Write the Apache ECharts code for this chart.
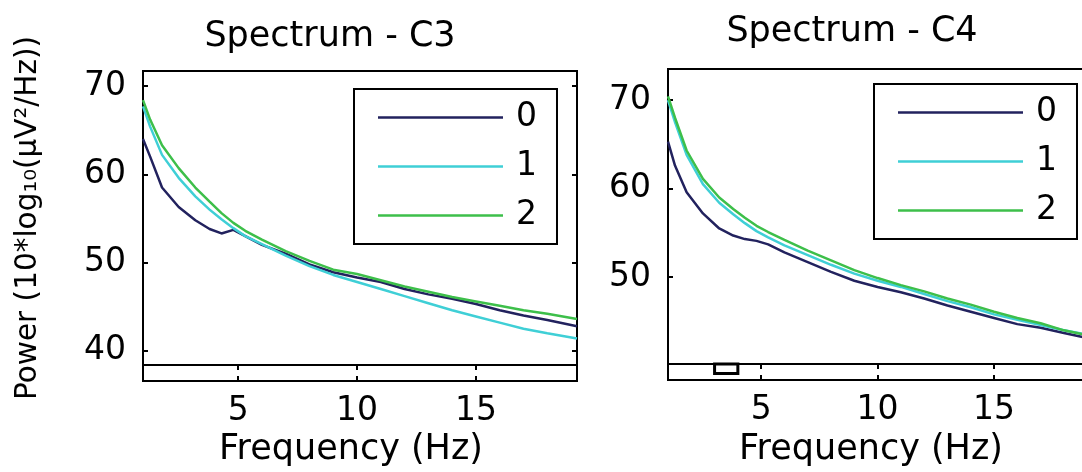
<!DOCTYPE html>
<html>
<head>
<meta charset="utf-8">
<script src="https://cdn.jsdelivr.net/npm/echarts@6/dist/echarts.min.js"></script>
<style>
  html, body { margin: 0; padding: 0; background: #fff; overflow: hidden; width: 1082px; height: 472px; }
  #chart { width: 1110px; height: 472px; }
</style>
</head>
<body>
<div id="chart"></div>
<script>
// Frequency bins (Hz) shared by both channels
const freq = [1, 1.3, 1.8, 2.5, 3.2, 3.8, 4.3, 4.8, 5.3, 6, 7, 8, 9, 10, 11, 12, 13, 14, 15, 16, 17, 18, 19.25];

// Channel C3 power spectra, 10*log10(uV^2/Hz), per condition
const c3_cond0 = [64.0, 62.0, 58.5, 56.3, 54.8, 53.8, 53.3, 53.7, 53.0, 52.0, 51.0, 49.8, 48.9, 48.3, 47.8, 47.0, 46.4, 45.9, 45.3, 44.6, 44.0, 43.5, 42.8];
const c3_cond1 = [67.7, 65.4, 62.2, 59.6, 57.5, 56.0, 54.9, 53.9, 53.0, 52.1, 50.8, 49.6, 48.6, 47.8, 47.0, 46.2, 45.4, 44.6, 43.9, 43.2, 42.5, 42.0, 41.4];
const c3_cond2 = [68.4, 66.2, 63.3, 60.7, 58.5, 56.9, 55.6, 54.5, 53.6, 52.6, 51.3, 50.2, 49.2, 48.7, 48.0, 47.3, 46.7, 46.1, 45.6, 45.1, 44.6, 44.2, 43.6];

// Channel C4 power spectra
const c4_cond0 = [65.3, 62.6, 59.6, 57.2, 55.5, 54.7, 54.3, 54.1, 53.7, 52.8, 51.7, 50.6, 49.6, 48.9, 48.3, 47.6, 46.8, 46.1, 45.4, 44.7, 44.3, 43.7, 43.0];
const c4_cond1 = [70.0, 67.5, 63.8, 60.5, 58.4, 57.1, 56.1, 55.2, 54.5, 53.6, 52.5, 51.4, 50.4, 49.6, 48.9, 48.1, 47.3, 46.6, 45.8, 45.2, 44.6, 44.0, 43.4];
const c4_cond2 = [70.4, 68.0, 64.3, 61.1, 59.0, 57.7, 56.7, 55.8, 55.1, 54.2, 53.0, 51.9, 50.8, 49.9, 49.1, 48.4, 47.6, 46.9, 46.1, 45.4, 44.8, 44.0, 43.3];

const conditions = ['0', '1', '2'];
const channels = ['Spectrum - C3', 'Spectrum - C4'];
const xName = 'Frequency (Hz)';
const xTicks = [5, 10, 15];
const yTicksC3 = [40, 50, 60, 70];
const yTicksC4 = [50, 60, 70];
const c4Band = [[3, 4]];   // highlighted frequency band (Hz) on C4

const colors = ['#22225e', '#3fcfd6', '#3dbf4a'];
const FONT = 'DejaVu Sans';
const FS = 33;      // tick and legend labels
const FS_T = 35;    // titles and x-axis names

const pairs = vals => freq.map((f, i) => [f, vals[i]]);

const chart = echarts.init(document.getElementById('chart'), null, { renderer: 'canvas' });

// fixed-position boxes: no automatic shrinking to fit labels
const gridBox = (left, top, width, height) => ({
  left, top, width, height, show: true, outerBoundsMode: 'none',
  borderColor: '#000', borderWidth: 2, backgroundColor: '#fff', containLabel: false
});

const hiddenLabels = { show: false };
const tickIn = (vals, len) => ({ show: true, inside: true, length: len, customValues: vals, lineStyle: { color: '#000', width: 2 } });

function panelAxes(gMain, gStrip, yMin, yMax, yTicks, showYName) {
  const xs = [
    { gridIndex: gMain, type: 'value', min: 1, max: 19.25, position: 'bottom',
      axisLine: { show: false }, axisTick: { show: false }, axisLabel: hiddenLabels, splitLine: { show: false } },
    { gridIndex: gStrip, type: 'value', min: 1, max: 19.25, position: 'bottom',
      axisLine: { show: false }, axisTick: tickIn(xTicks, 5), splitLine: { show: false },
      axisLabel: { show: true, customValues: xTicks, color: '#000', fontFamily: FONT, fontSize: FS, margin: 14 } },
    { gridIndex: gStrip, type: 'value', min: 1, max: 19.25, position: 'top',
      axisLine: { show: false }, axisTick: tickIn(xTicks, 5), axisLabel: hiddenLabels, splitLine: { show: false } }
  ];
  const ys = [
    { gridIndex: gMain, type: 'value', min: yMin, max: yMax, position: 'left',
      axisLine: { show: false }, axisTick: tickIn(yTicks, 5), splitLine: { show: false },
      axisLabel: { show: true, customValues: yTicks, color: '#000', fontFamily: FONT, fontSize: FS, margin: 17 },
      name: showYName ? 'Power (10*log\u2081\u2080(\u03bcV\u00b2/Hz))' : '',
      nameLocation: 'middle', nameRotate: 90, nameGap: 100,
      nameTextStyle: { color: '#000', fontFamily: FONT, fontSize: 29.5 } },
    { gridIndex: gMain, type: 'value', min: yMin, max: yMax, position: 'right',
      axisLine: { show: false }, axisTick: tickIn(yTicks, 5), axisLabel: hiddenLabels, splitLine: { show: false } },
    { gridIndex: gStrip, type: 'value', min: 0, max: 1,
      axisLine: { show: false }, axisTick: { show: false }, axisLabel: hiddenLabels, splitLine: { show: false } }
  ];
  return { xs, ys };
}

const p1 = panelAxes(0, 1, 38.4, 71.7, yTicksC3, true);
const p2 = panelAxes(2, 3, 40.2, 73.5, yTicksC4, false);

const lineSeries = (name, data, xi, yi, ci) => ({
  name, type: 'line', xAxisIndex: xi, yAxisIndex: yi, data: pairs(data),
  showSymbol: false, symbol: 'none', smooth: false, clip: true,
  lineStyle: { color: colors[ci], width: 2.5 }, itemStyle: { color: colors[ci] },
  emphasis: { disabled: true }, z: 2
});

const legendCfg = (left, top) => ({
  left, top, orient: 'vertical', data: conditions, z: 10,
  icon: 'rect', itemWidth: 125, itemHeight: 2.5, itemGap: 16,
  padding: [12, 20, 12, 24],
  backgroundColor: '#fff', borderColor: '#000', borderWidth: 2,
  textStyle: { color: '#000', fontFamily: FONT, fontSize: FS, padding: [0, 0, 0, 8] },
  selectedMode: false
});

// x-axis titles under each panel
const xNameText = cx => ({
  type: 'text', x: cx, y: 450, silent: true,
  style: {
    text: xName, fill: '#000', font: FS_T + 'px "' + FONT + '"',
    textAlign: 'center', textVerticalAlign: 'middle', align: 'center', verticalAlign: 'middle'
  }
});

const option = {
  animation: false,
  backgroundColor: '#fff',
  title: [
    { text: channels[0], left: 330, top: 19, textAlign: 'center', padding: 0,
      textStyle: { color: '#000', fontFamily: FONT, fontSize: FS_T, fontWeight: 'normal' } },
    { text: channels[1], left: 852, top: 14, textAlign: 'center', padding: 0,
      textStyle: { color: '#000', fontFamily: FONT, fontSize: FS_T, fontWeight: 'normal' } }
  ],
  grid: [
    gridBox(143, 71, 434, 294),
    gridBox(143, 365, 434, 16),
    gridBox(668, 69, 425, 295),
    gridBox(668, 364, 425, 16)
  ],
  xAxis: [...p1.xs, ...p2.xs],
  yAxis: [...p1.ys, ...p2.ys],
  legend: [legendCfg(354, 89), legendCfg(874, 84)],
  graphic: [xNameText(351), xNameText(871)],
  series: [
    lineSeries('0', c3_cond0, 0, 0, 0),
    lineSeries('1', c3_cond1, 0, 0, 1),
    lineSeries('2', c3_cond2, 0, 0, 2),
    lineSeries('0', c4_cond0, 3, 3, 0),
    lineSeries('1', c4_cond1, 3, 3, 1),
    lineSeries('2', c4_cond2, 3, 3, 2),
    {
      type: 'custom', xAxisIndex: 4, yAxisIndex: 5, data: c4Band, silent: true,
      renderItem: (params, api) => {
        const a = api.coord([api.value(0), 1]);
        const b = api.coord([api.value(1), 0.4]);
        return {
          type: 'rect',
          shape: { x: a[0], y: a[1], width: b[0] - a[0], height: b[1] - a[1] },
          style: { fill: '#fff', stroke: '#000', lineWidth: 3 }
        };
      }
    }
  ]
};

chart.setOption(option);
</script>
</body>
</html>
